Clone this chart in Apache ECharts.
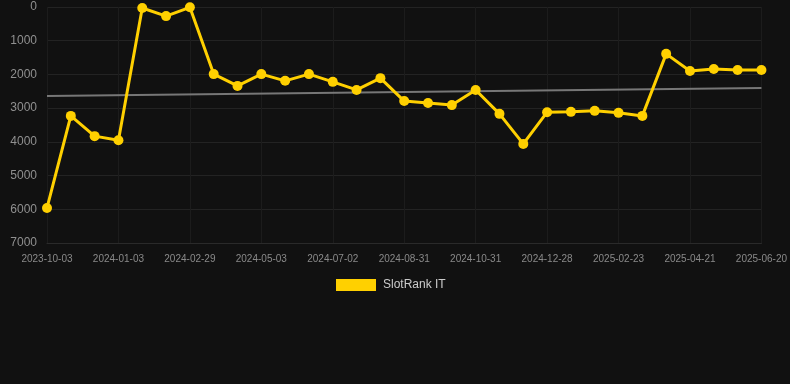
<!DOCTYPE html>
<html>
    <head>
        <meta charset="utf-8">
        <script src="https://cdn.jsdelivr.net/npm/echarts@6/dist/echarts.min.js"></script>
        <style>
            html, body { margin: 0; padding: 0; background: #111111; }
            #main { width: 790px; height: 384px; }
        </style>
    </head>
    <body>
        <div id="main"></div>
        <script>
            // category dates (only every third one is shown on the axis)
            var dates = [
                '2023-10-03', '2023-11-02', '2023-12-03', '2024-01-03', '2024-01-22', '2024-02-10',
                '2024-02-29', '2024-03-20', '2024-04-12', '2024-05-03', '2024-05-23', '2024-06-12',
                '2024-07-02', '2024-07-22', '2024-08-11', '2024-08-31', '2024-09-20', '2024-10-11',
                '2024-10-31', '2024-11-19', '2024-12-09', '2024-12-28', '2025-01-17', '2025-02-04',
                '2025-02-23', '2025-03-14', '2025-04-02', '2025-04-21', '2025-05-11', '2025-05-31',
                '2025-06-20'
            ];
            var slotRank = [
                5960, 3230, 3830, 3950, 30, 270, 10, 1990, 2340, 1990, 2190, 1990,
                2220, 2460, 2110, 2790, 2850, 2910, 2460, 3170, 4060, 3120, 3110, 3080,
                3140, 3230, 1390, 1900, 1840, 1870, 1870
            ];
            // trend line end values (first and last category)
            var trendEnds = [2640, 2400];
            var yTicks = [0, 1000, 2000, 3000, 4000, 5000, 6000, 7000];

            var trend = dates.map(function () { return '-'; });
            trend[0] = trendEnds[0];
            trend[dates.length - 1] = trendEnds[1];

            var chart = echarts.init(document.getElementById('main'));

            var option = {
                backgroundColor: '#111111',
                animation: false,
                grid: {
                    left: 47,
                    right: 28,
                    top: 7,
                    bottom: 141
                },
                legend: {
                    data: ['SlotRank IT'],
                    top: 274,
                    left: 331,
                    itemWidth: 40,
                    itemHeight: 12,
                    itemGap: 10,
                    icon: 'rect',
                    textStyle: {
                        color: '#cccccc',
                        fontSize: 12,
                        fontFamily: 'Liberation Sans',
                        padding: [0, 0, 0, 2]
                    }
                },
                xAxis: {
                    type: 'category',
                    data: dates,
                    boundaryGap: false,
                    axisLine: { onZero: false, lineStyle: { color: '#2a2a2a' } },
                    axisTick: { show: false },
                    axisLabel: {
                        interval: 2,
                        color: '#8a8a8a',
                        fontSize: 10,
                        fontFamily: 'Liberation Sans',
                        margin: 11
                    },
                    splitLine: {
                        show: true,
                        interval: 2,
                        lineStyle: { color: '#1c1c1c' }
                    }
                },
                yAxis: {
                    type: 'value',
                    inverse: true,
                    min: yTicks[0],
                    max: yTicks[yTicks.length - 1],
                    interval: 1000,
                    axisLine: { show: false },
                    axisTick: { show: false },
                    axisLabel: {
                        color: '#909090',
                        fontSize: 12,
                        fontFamily: 'Liberation Sans',
                        margin: 10,
                        formatter: function (v) { return String(v); }
                    },
                    splitLine: { lineStyle: { color: '#232323' } }
                },
                series: [{
                    name: 'SlotRank IT',
                    type: 'line',
                    data: slotRank,
                    symbol: 'circle',
                    symbolSize: 10,
                    color: '#ffd000',
                    lineStyle: { width: 3, color: '#ffd000' },
                    itemStyle: { color: '#ffd000' },
                    z: 3
                }, {
                    name: 'trend',
                    type: 'line',
                    data: trend,
                    connectNulls: true,
                    symbol: 'none',
                    lineStyle: { width: 2, color: '#777777' },
                    z: 2
                }]
            };

            chart.setOption(option);
        </script>
    </body>
</html>
